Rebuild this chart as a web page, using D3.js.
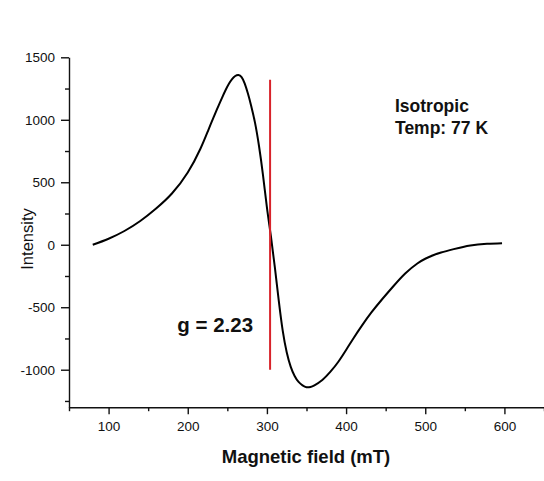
<!DOCTYPE html>
<html>
<head>
<meta charset="utf-8">
<script src="https://cdn.jsdelivr.net/npm/d3@7"></script>
<style>
  html, body { margin: 0; padding: 0; background: #fff; }
  svg { display: block; font-family: "Liberation Sans", Arial, sans-serif; }
  .axis path, .axis line { stroke: #111; stroke-width: 1.4px; }
  .axis text { fill: #111; font-size: 13.5px; font-family: "Liberation Sans", Arial, sans-serif; }
</style>
</head>
<body>
<svg id="chart" width="544" height="481"></svg>
<script>
// EPR spectrum, isotropic, 77 K
const field = [80, 100, 120, 140, 160, 180, 200, 216, 226, 233, 238, 243, 248, 252, 256, 260, 264,
  268, 272, 276, 280, 285, 290, 295, 300, 305, 310, 315, 320, 325, 330, 335, 340, 345, 350, 355,
  360, 370, 380, 390, 400, 410, 420, 432, 445, 460, 475, 490, 500, 510, 520, 536, 557, 578, 597];
const intensity = [0, 48, 110, 190, 290, 410, 578, 768, 918, 1025, 1100, 1172, 1240, 1288, 1325, 1350, 1358,
  1342, 1290, 1210, 1115, 975, 790, 560, 300, 70, -180, -450, -690, -860, -975, -1050, -1098, -1125, -1140, -1138,
  -1125, -1082, -1018, -938, -842, -742, -647, -542, -440, -330, -228, -150, -112, -84, -62, -35, -6, 7, 12];

const xTicks = [100, 200, 300, 400, 500, 600];
const xMinor = [50, 150, 250, 350, 450, 550, 650];
const yTicks = [-1000, -500, 0, 500, 1000, 1500];
const yMinor = [-1250, -750, -250, 250, 750, 1250];

const gField = 304;          // resonance position, g = 2.23
const gLineRange = [-1000, 1320];

const svg = d3.select("#chart");

const x = d3.scaleLinear().domain([50, 650]).range([69, 544]);
const y = d3.scaleLinear().domain([-1300, 1500]).range([407.2, 57.3]);
const plain = d => String(d);

// minor ticks
svg.append("g").attr("class", "axis")
  .attr("transform", `translate(0,${y(-1300)})`)
  .call(d3.axisBottom(x).tickValues(xMinor).tickSize(4).tickFormat(""))
  .call(g => g.select(".domain").remove());
svg.append("g").attr("class", "axis")
  .attr("transform", `translate(${x(50)},0)`)
  .call(d3.axisLeft(y).tickValues(yMinor).tickSize(4).tickFormat(""))
  .call(g => g.select(".domain").remove());

// major axes
svg.append("g").attr("class", "axis")
  .attr("transform", `translate(0,${y(-1300)})`)
  .call(d3.axisBottom(x).tickValues(xTicks).tickFormat(plain)
    .tickSizeInner(7).tickSizeOuter(0).tickPadding(7));
svg.append("g").attr("class", "axis")
  .attr("transform", `translate(${x(50)},0)`)
  .call(d3.axisLeft(y).tickValues(yTicks).tickFormat(plain)
    .tickSizeInner(8).tickSizeOuter(0).tickPadding(6));

// spectrum
const pts = field.map((f, i) => [f, intensity[i]]);
svg.append("path")
  .datum(pts)
  .attr("fill", "none")
  .attr("stroke", "#000")
  .attr("stroke-width", 2)
  .attr("stroke-linejoin", "round")
  .attr("d", d3.line().x(d => x(d[0])).y(d => y(d[1])).curve(d3.curveNatural));

// resonance marker
svg.append("line")
  .attr("x1", x(gField)).attr("x2", x(gField))
  .attr("y1", y(gLineRange[1])).attr("y2", y(gLineRange[0]))
  .attr("stroke", "#d8232a").attr("stroke-width", 2);

// labels
svg.append("text")
  .attr("x", 306).attr("y", 462.7)
  .attr("text-anchor", "middle")
  .attr("font-size", "18.5px").attr("font-weight", "bold").attr("fill", "#111")
  .text("Magnetic field (mT)");

svg.append("text")
  .attr("transform", "translate(27,239) rotate(-90)")
  .attr("text-anchor", "middle").attr("dominant-baseline", "central")
  .attr("font-size", "16.5px").attr("fill", "#111")
  .text("Intensity");

svg.append("text")
  .attr("x", 395).attr("y", 112.3)
  .attr("font-size", "17.5px").attr("font-weight", "bold").attr("fill", "#111")
  .text("Isotropic");
svg.append("text")
  .attr("x", 395).attr("y", 134.3)
  .attr("font-size", "17.5px").attr("font-weight", "bold").attr("fill", "#111")
  .text("Temp: 77 K");

svg.append("text")
  .attr("x", 177.3).attr("y", 331.7)
  .attr("font-size", "20.5px").attr("font-weight", "bold").attr("fill", "#111")
  .text("g = 2.23");
</script>
</body>
</html>
